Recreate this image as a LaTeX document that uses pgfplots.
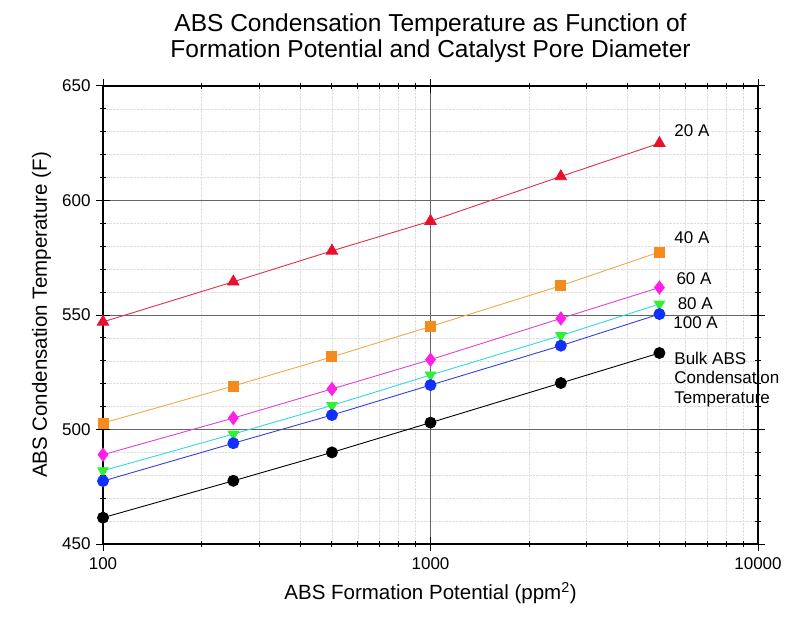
\documentclass[border=0pt]{standalone}
\usepackage{fontspec}
\setmainfont{Liberation Sans}
\usepackage{pgfplots}
\pgfplotsset{compat=1.18}

\definecolor{redmk}{HTML}{E8102C}
\definecolor{redln}{HTML}{E03048}
\definecolor{orgmk}{HTML}{F58A1F}
\definecolor{orgln}{HTML}{F0A848}
\definecolor{magmk}{HTML}{FF20E8}
\definecolor{magln}{HTML}{E040D8}
\definecolor{grnmk}{HTML}{30F030}
\definecolor{cyaln}{HTML}{30D8E0}
\definecolor{blumk}{HTML}{1030FF}
\definecolor{bluln}{HTML}{3040E0}

\begin{document}
\begin{tikzpicture}
\begin{semilogxaxis}[
  scale only axis,
  width=655pt, height=458pt,
  xmin=100, xmax=10000,
  ymin=450, ymax=650,
  xtick={100,1000,10000},
  xticklabels={100,1000,10000},
  ytick={450,500,550,600,650},
  minor y tick num=4,
  grid=both,
  major grid style={draw=black!60, line width=1pt},
  minor grid style={draw=black!13, densely dotted, line width=0.6pt},
  axis line style={black, line width=1.2pt},
  tick style={black, line width=1pt},
  tick align=center,
  major tick length=14pt,
  minor tick length=6pt,
  /pgf/number format/assume math mode=true,
  tick label style={font=\fontsize{17}{17}\selectfont},
  xticklabel style={yshift=-3pt},
  yticklabel style={xshift=-2pt},
  xlabel={ABS Formation Potential (ppm\textsuperscript{2})},
  ylabel={ABS Condensation Temperature (F)},
  label style={font=\fontsize{20.5}{21}\selectfont},
  xlabel style={yshift=-6pt},
  ylabel style={yshift=4pt},
  title={ABS Condensation Temperature as Function of\\Formation Potential and Catalyst Pore Diameter},
  title style={align=center, font=\fontsize{24.5}{26}\selectfont, yshift=14pt},
  clip=false,
  every axis plot/.append style={line width=0.9pt},
]

% 20 A
\addplot[redln, mark=triangle*, mark size=6.5pt, mark options={fill=redmk, draw=redmk}]
  coordinates {(100,547) (250,564.5) (500,578) (1000,591) (2500,610.5) (5000,625)};
% 40 A
\addplot[orgln, mark=square*, mark size=5pt, mark options={fill=orgmk, draw=orgmk}]
  coordinates {(100,502.8) (250,519) (500,531.7) (1000,545) (2500,562.8) (5000,577.5)};
% 60 A
\addplot[magln, mark=diamond*, mark size=6.5pt, mark options={fill=magmk, draw=magmk}]
  coordinates {(100,489) (250,505) (500,517.7) (1000,530.5) (2500,548.5) (5000,562)};
% 80 A
\addplot[cyaln, mark=triangle*, mark size=6pt, mark options={fill=grnmk, draw=grnmk, rotate=180}]
  coordinates {(100,482) (250,498) (500,510.5) (1000,523.8) (2500,541) (5000,554.8)};
% 100 A
\addplot[bluln, mark=*, mark size=5.5pt, mark options={fill=blumk, draw=blumk}]
  coordinates {(100,477.5) (250,494) (500,506.3) (1000,519.4) (2500,536.6) (5000,550.4)};
% bulk ABS
\addplot[black, mark=*, mark size=5.5pt, mark options={fill=black, draw=black}]
  coordinates {(100,461.5) (250,477.6) (500,490) (1000,503) (2500,520.3) (5000,533.4)};

\node[anchor=west, font=\fontsize{17}{17}\selectfont] at (axis cs:5420,630.3) {20 A};
\node[anchor=west, font=\fontsize{17}{17}\selectfont] at (axis cs:5420,583.6) {40 A};
\node[anchor=west, font=\fontsize{17}{17}\selectfont] at (axis cs:5500,565.7) {60 A};
\node[anchor=west, font=\fontsize{17}{17}\selectfont] at (axis cs:5550,555.1) {80 A};
\node[anchor=west, font=\fontsize{17}{17}\selectfont] at (axis cs:5380,546.8) {100 A};
\node[anchor=west, align=left, font=\fontsize{17}{19.5}\selectfont] at (axis cs:5420,522) {Bulk ABS\\Condensation\\Temperature};

\end{semilogxaxis}
\path ([shift={(-103pt,-77pt)}]current axis.south west) rectangle ([shift={(31pt,86pt)}]current axis.north east);
\end{tikzpicture}
\end{document}
